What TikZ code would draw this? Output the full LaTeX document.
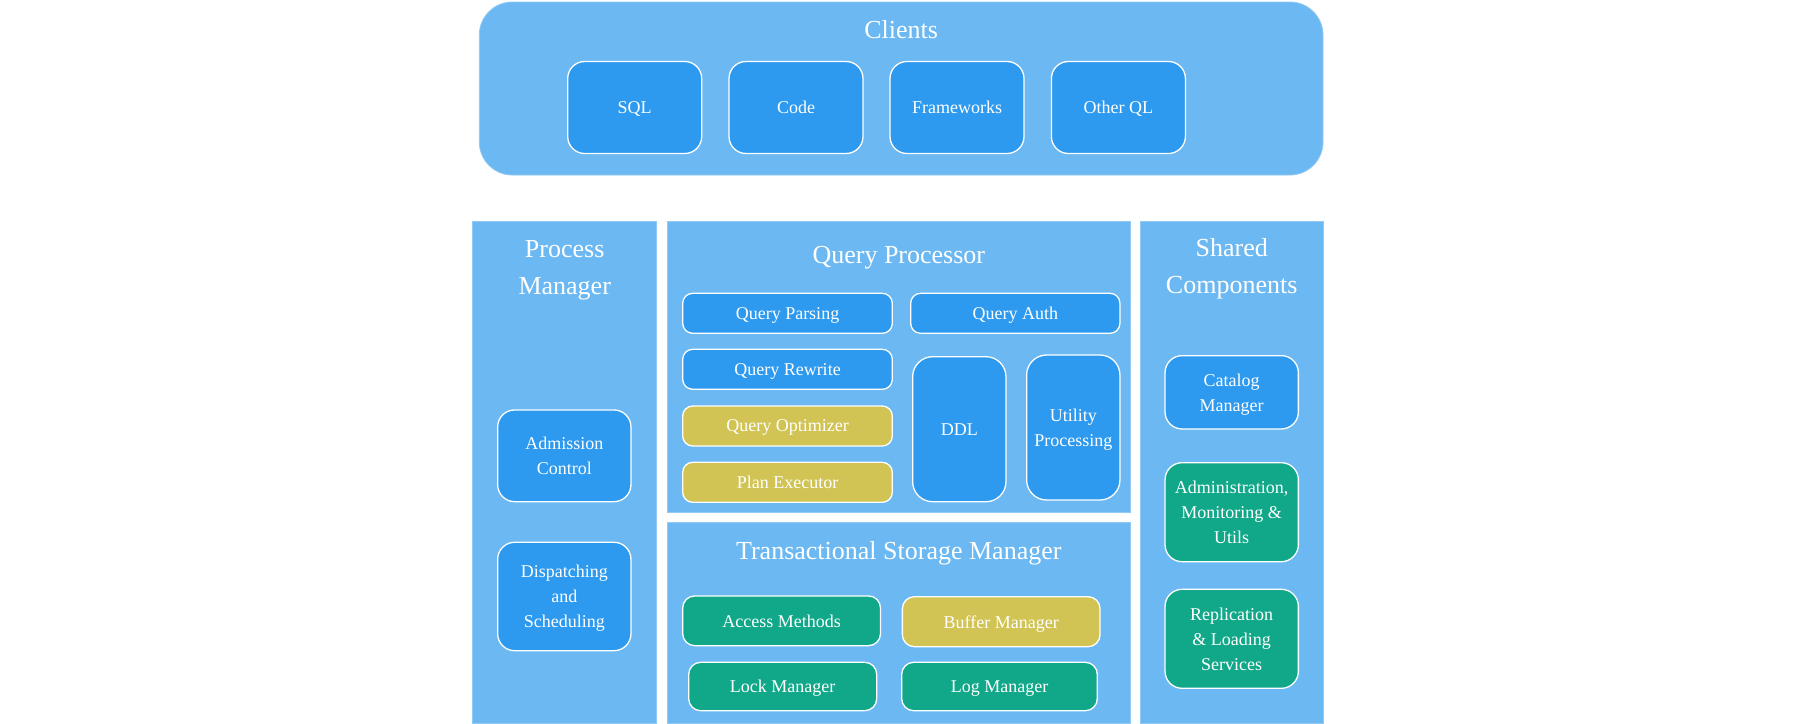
\documentclass[tikz,border=0pt]{standalone}
\usepackage{fontspec}
\setmainfont{Liberation Serif}
\definecolor{panel}{RGB}{108,184,242}
\definecolor{iblue}{RGB}{45,154,239}
\definecolor{iyellow}{RGB}{209,196,84}
\definecolor{igreen}{RGB}{16,168,136}
\begin{document}
\begin{tikzpicture}[x=1pt,y=-1pt,
  panelbox/.style={fill=panel, draw=panel!75!white, line width=0.8pt},
  titletext/.style={text=white, font=\fontsize{26}{37}\selectfont, align=center, inner sep=0pt},
  sz/.style 2 args={minimum width=#1pt, minimum height=#2pt},
  inbox/.style={draw=white, line width=1.3pt, text=white, font=\fontsize{18}{25}\selectfont, align=center, inner sep=0pt, text depth=0pt, rounded corners=#1},
  inbox/.default=10pt,
  bluebox/.style={inbox=#1, fill=iblue},
  bluebox/.default=10pt,
  yellowbox/.style={inbox=#1, fill=iyellow},
  yellowbox/.default=10pt,
  greenbox/.style={inbox=#1, fill=igreen},
  greenbox/.default=10pt]
\useasboundingbox (0,0) rectangle (1793,723);
\fill[white] (0,0) rectangle (1793,723);

% Clients
\path[panelbox, rounded corners=33pt] (479.3,2) rectangle (1323,175);
\node[titletext, anchor=base] (clientsT) at (901.2,38) {Clients};
\node[bluebox=17pt, sz={134}{92}] (sql) at (634.7,107.5) {SQL};
\node[bluebox=17pt, sz={134}{92}] (code) at (796,107.5) {Code};
\node[bluebox=17pt, sz={134}{92}] (fw) at (957,107.5) {Frameworks};
\node[bluebox=17pt, sz={134}{92}] (oql) at (1118.4,107.5) {Other QL};

% Panels
\path[panelbox] (472.7,221.7) rectangle (656.7,723);
\path[panelbox] (667.7,221.7) rectangle (1130,512.3);
\path[panelbox] (667.7,522.3) rectangle (1130,723);
\path[panelbox] (1140,221.7) rectangle (1323.3,723);

% Process Manager
\node[titletext, anchor=north] (pmT) at (564.7,240) {Process\\Manager};
\node[bluebox=17pt, sz={133.3}{91.7}] (adm) at (564.3,455.8) {Admission\\Control};
\node[bluebox=17pt, sz={133.3}{108.4}] (disp) at (564.3,596.5) {Dispatching\\and\\Scheduling};

% Query Processor
\node[titletext, anchor=base] (qpT) at (898.8,263.3) {Query Processor};
\node[bluebox, sz={209.6}{40}] (qparse) at (787.5,313.3) {Query Parsing};
\node[bluebox, sz={209.6}{40}] (qrew) at (787.5,369.3) {Query Rewrite};
\node[yellowbox, sz={209.6}{40}] (qopt) at (787.5,426) {Query Optimizer};
\node[yellowbox, sz={209.6}{40}] (pexe) at (787.5,482.3) {Plan Executor};
\node[bluebox, sz={209.3}{40}] (qauth) at (1015.3,313.3) {Query Auth};
\node[bluebox=20pt, sz={93.3}{145}] (ddl) at (959.3,429.2) {DDL};
\node[bluebox=20pt, sz={93.3}{145}] (util) at (1073.3,427.5) {Utility\\Processing};

% Transactional Storage Manager
\node[titletext, anchor=base] (tsmT) at (898.8,559.3) {Transactional Storage Manager};
\node[greenbox=12pt, sz={197.8}{49.7}] (acc) at (781.6,620.8) {Access Methods};
\node[yellowbox=12pt, sz={197.7}{50}] (buf) at (1001.2,621.7) {Buffer Manager};
\node[greenbox=12pt, sz={188}{48.4}] (lock) at (782.7,686.5) {Lock Manager};
\node[greenbox=12pt, sz={195.6}{48.4}] (logm) at (999.5,686.5) {Log Manager};

% Shared Components
\node[titletext, anchor=north] (scT) at (1231.7,238.5) {Shared\\Components};
\node[bluebox=17pt, sz={133.3}{73.3}] (cat) at (1231.7,392.3) {Catalog\\Manager};
\node[greenbox=17pt, sz={133.3}{99}] (admin) at (1231.7,512.2) {Administration,\\Monitoring \&\\Utils};
\node[greenbox=17pt, sz={133.3}{99}] (repl) at (1231.7,638.8) {Replication\\\& Loading\\Services};
\end{tikzpicture}
\end{document}
